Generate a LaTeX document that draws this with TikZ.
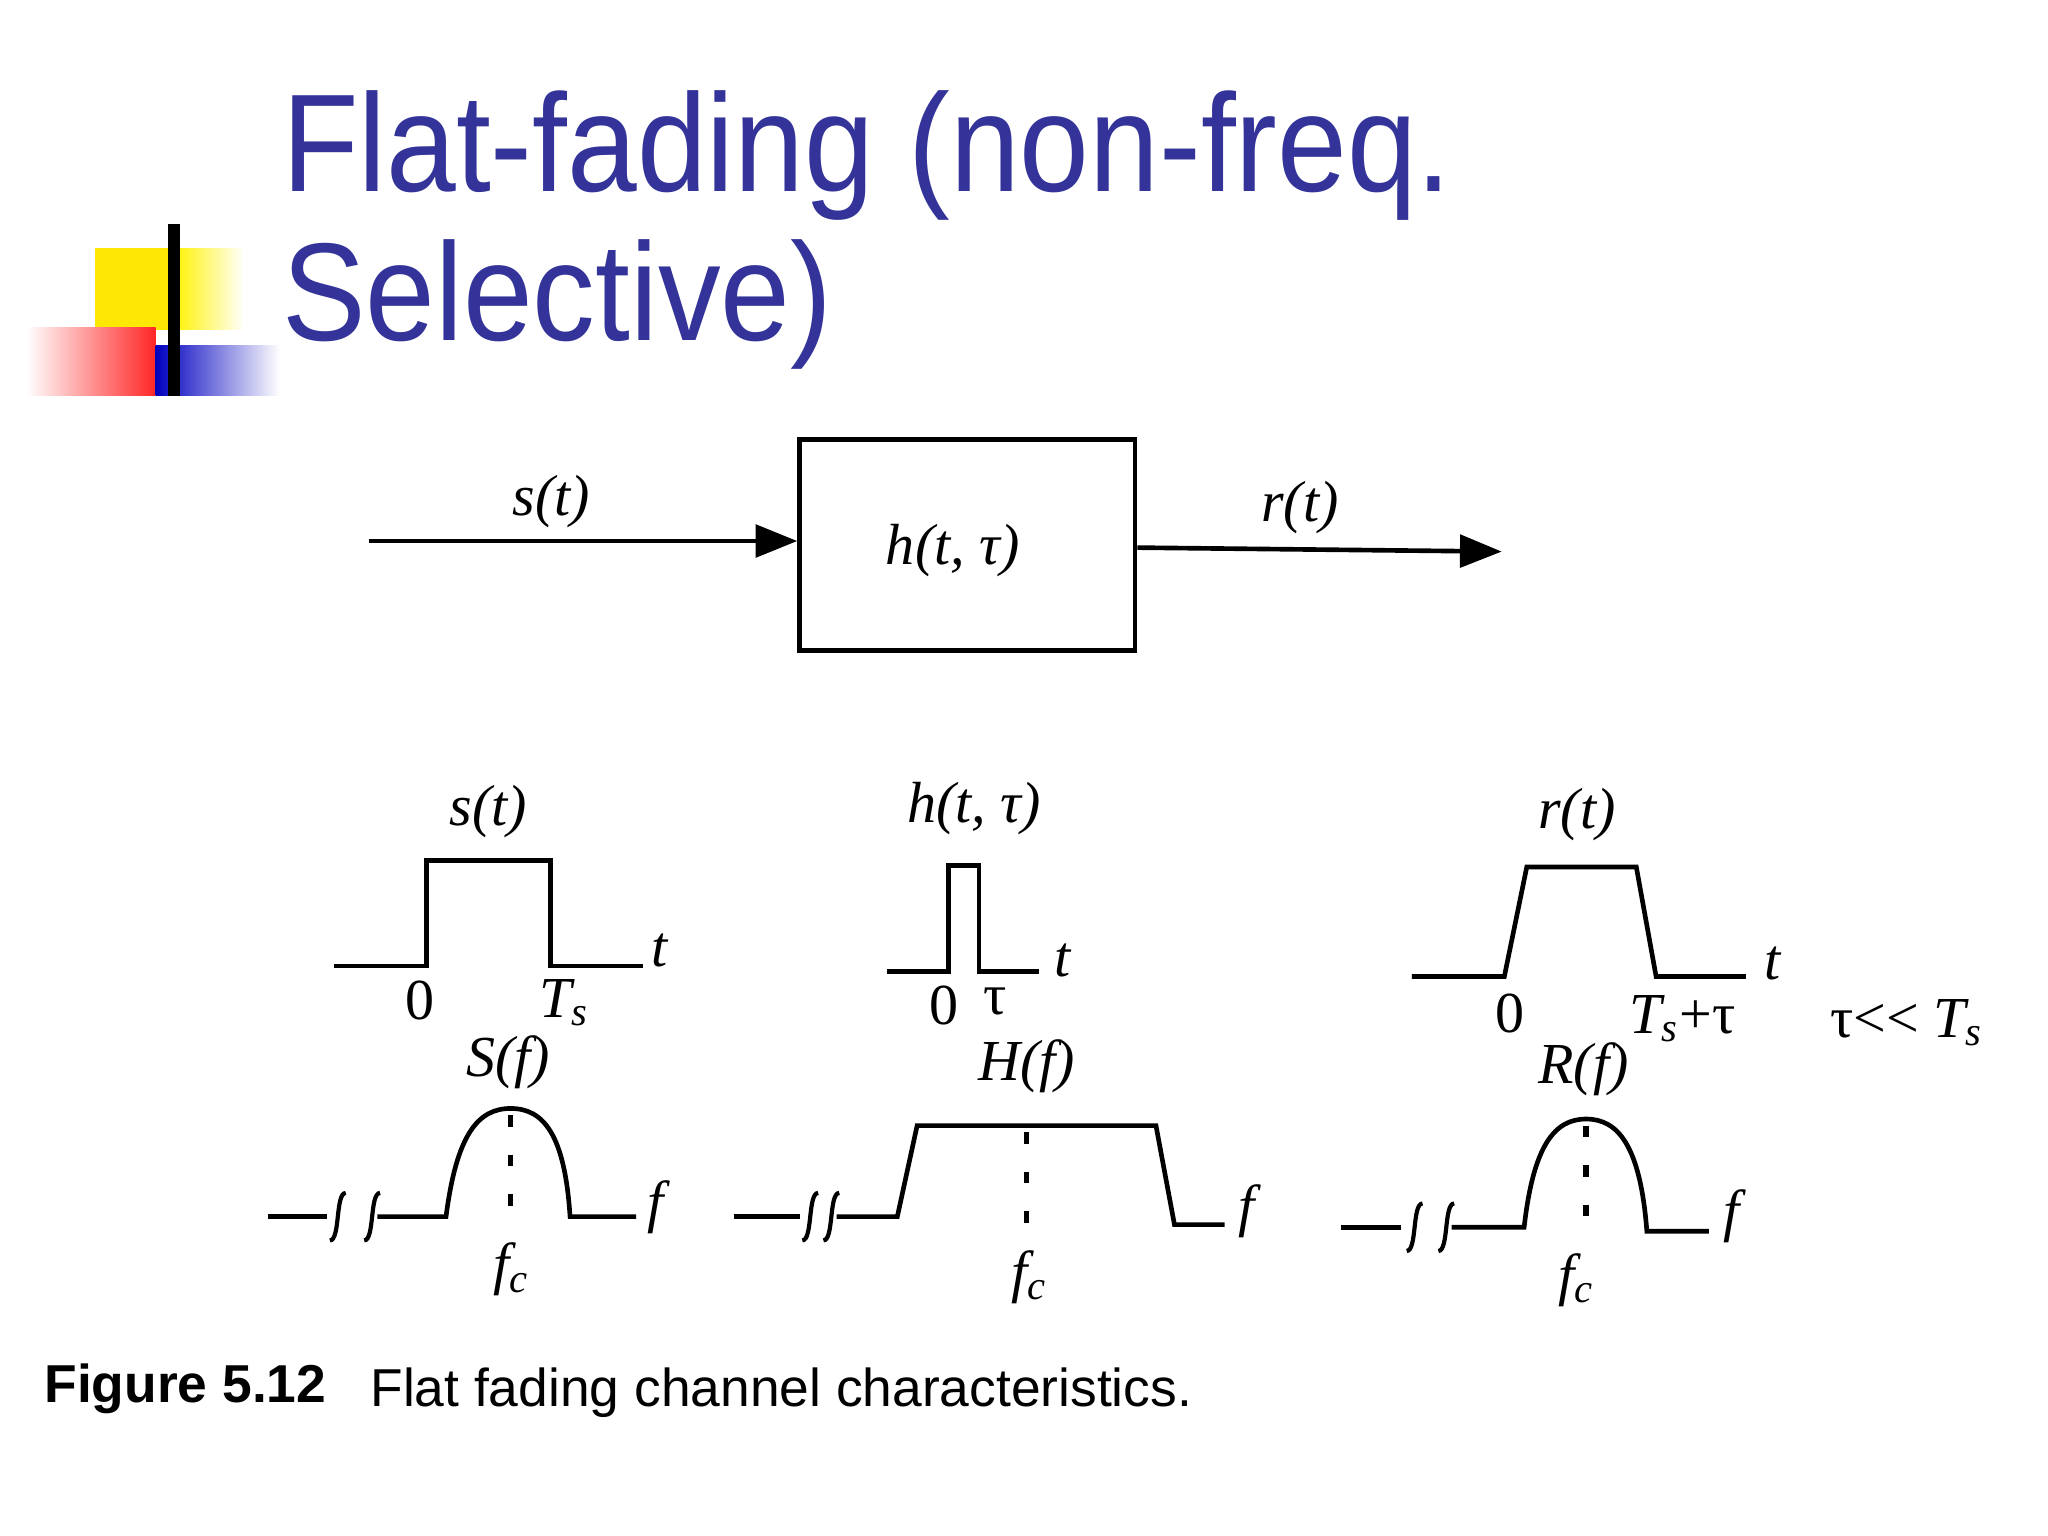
\documentclass[tikz,border=0pt]{standalone}
\usepackage{fontspec}
\setmainfont{Liberation Serif}
\setsansfont{Liberation Sans}
\usetikzlibrary{arrows.meta}
\definecolor{titleblue}{RGB}{51,51,153}
\tikzset{
  wave/.style={line width=1.0pt, line join=miter},
  lab/.style={font=\fontsize{12.5}{12.5}\selectfont\itshape, inner sep=0pt},
  num/.style={font=\fontsize{12.5}{12.5}\selectfont, inner sep=0pt},
  sig/.style={line width=1.0pt, -{Triangle[length=9pt,width=7pt]}},
  dots/.style={line width=1.2pt, dash pattern=on 2.5pt off 6pt},
  brk/.style={line width=0.9pt}
}
\newcommand{\brkmark}[2]{%
  \draw[brk] (#1-6,#2+18) .. controls (#1+2,#2+18) and (#1-2,#2-18) .. (#1+6,#2-18);}
\begin{document}
\begin{tikzpicture}[x=0.01cm,y=-0.01cm]
\useasboundingbox (0,0) rectangle (1552,1164);
\fill[white] (0,0) rectangle (1552,1164);
% decoration
\fill[yellow!90!orange] (72,188) rectangle (132,250);
\shade[left color=yellow!90!orange, right color=white] (132,188) rectangle (185,250);
\shade[left color=white, right color=red!85] (20,248) rectangle (118,300);
\shade[left color=blue!75!black, right color=white] (118,262) rectangle (212,300);
\draw[line width=2.5pt] (132,170) -- (132,300);
% title
\node[anchor=base west, inner sep=0pt, text=titleblue, font=\sffamily\fontsize{30}{30}\selectfont] (t1) at (213,145) {\scalebox{0.9}[1]{Flat-fading (non-freq.}};
\node[anchor=base west, inner sep=0pt, text=titleblue, font=\sffamily\fontsize{30}{30}\selectfont] (t2) at (213,258) {\scalebox{0.9}[1]{Selective)}};
% block diagram
\node[draw, line width=1.0pt, minimum width=2.54cm, minimum height=1.6cm, inner sep=0pt] (blk) at (733,413) {};
\node[lab] (hl) at (722,417) {h(t,~τ)};
\coordinate (in) at (280,410);
\coordinate (out) at (1138,418);
\draw[sig] (in) -- (blk.west |- in);
\draw[sig] (blk.east |- 0,415) -- (out);
\node[lab] (sl) at (418,380) {s(t)};
\node[lab] (rl) at (985,385) {r(t)};
% s(t)
\draw[wave] (253,732) -- (323,732) -- (323,652) -- (417,652) -- (417,732) -- (487,732);
\node[lab] at (370,615) {s(t)};
\node[lab] at (500,720) {t};
\node[num] at (318,758) {0};
\node[lab] at (428,760) {T\textsubscript{s}};
% h
\draw[wave] (672,736) -- (719,736) -- (719,656) -- (742,656) -- (742,736) -- (787,736);
\node[lab] at (738,613) {h(t,~τ)};
\node[lab] at (805,728) {t};
\node[num] at (715,762) {0};
\node[num] at (754,759) {τ};
% r
\draw[wave] (1070,740) -- (1140,740) -- (1157,657) -- (1240,657) -- (1255,740) -- (1323,740);
\node[lab] at (1195,617) {r(t)};
\node[lab] at (1343,730) {t};
\node[num] at (1144,768) {0};
\node[lab] at (1275,772) {T\textsubscript{s}\upshape+τ};
\node[lab] at (1445,775) {\upshape τ<{}< \itshape T\textsubscript{s}};
% S(f)
\draw[wave] (203,922) -- (248,922);
\brkmark{256}{922}\brkmark{282}{922}
\draw[wave] (286,922) -- (338,922) .. controls (346,860) and (362,840) .. (387,840) .. controls (412,840) and (428,860) .. (432,922) -- (482,922);
\draw[dots] (387,845) -- (387,925);
\node[lab] at (385,805) {S(f)};
\node[lab] at (497,915) {f};
\node[lab] at (388,962) {f\textsubscript{c}};
% H(f)
\draw[wave] (556,922) -- (606,922);
\brkmark{614}{922}\brkmark{630}{922}
\draw[wave] (634,922) -- (680,922) -- (695,853) -- (876,853) -- (890,928) -- (928,928);
\draw[dots] (778,858) -- (778,930);
\node[lab] at (778,808) {H(f)};
\node[lab] at (945,918) {f};
\node[lab] at (780,968) {f\textsubscript{c}};
% R(f)
\draw[wave] (1016,930) -- (1062,930);
\brkmark{1072}{930}\brkmark{1096}{930}
\draw[wave] (1100,930) -- (1155,930) .. controls (1162,868) and (1178,848) .. (1202,848) .. controls (1226,848) and (1243,868) .. (1248,933) -- (1295,933);
\draw[dots] (1202,853) -- (1202,935);
\node[lab] at (1200,810) {R(f)};
\node[lab] at (1312,922) {f};
\node[lab] at (1195,970) {f\textsubscript{c}};
% caption
\node[anchor=base west, inner sep=0pt, font=\sffamily\bfseries\fontsize{11.5}{11.5}\selectfont] (c1) at (33,1063) {Figure 5.12};
\node[anchor=base west, inner sep=0pt, font=\sffamily\fontsize{11.5}{11.5}\selectfont] (c2) at (280,1066) {Flat fading channel characteristics.};
\end{tikzpicture}
\end{document}
